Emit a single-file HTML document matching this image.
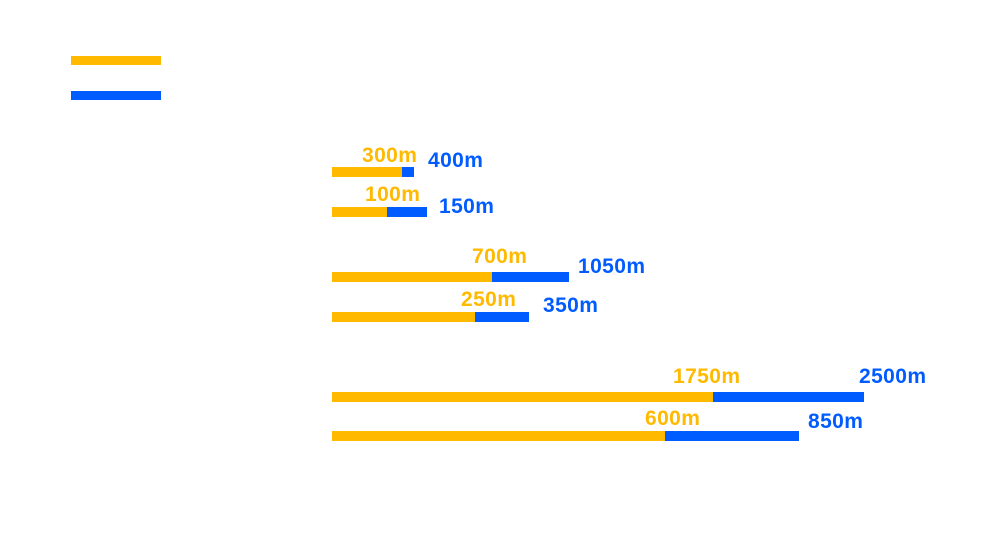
<!DOCTYPE html>
<html><head><style>
body{margin:0;width:1000px;height:534px;background:#fff;position:relative;overflow:hidden;font-family:"Liberation Sans",sans-serif;font-weight:bold}
div{position:absolute}
.y{background:#FFBA00}.b{background:#005CFF}
.t{font-size:21px;line-height:20px;white-space:nowrap;letter-spacing:0.4px}
.ty{color:#FFBA00}.tb{color:#005CFF}
</style></head><body>
<div class="y" style="left:71px;top:56px;width:90px;height:9px"></div>
<div class="b" style="left:71px;top:91px;width:90px;height:9px"></div>

<div class="b" style="left:332px;top:167px;width:82px;height:10px"></div>
<div class="y" style="left:332px;top:167px;width:70px;height:10px"></div>
<div class="b" style="left:332px;top:207px;width:95px;height:10px"></div>
<div class="y" style="left:332px;top:207px;width:55px;height:10px"></div>
<div class="b" style="left:332px;top:272px;width:237px;height:10px"></div>
<div class="y" style="left:332px;top:272px;width:160px;height:10px"></div>
<div class="b" style="left:332px;top:312px;width:197px;height:10px"></div>
<div class="y" style="left:332px;top:312px;width:143px;height:10px"></div>
<div class="b" style="left:332px;top:392px;width:532px;height:10px"></div>
<div class="y" style="left:332px;top:392px;width:381px;height:10px"></div>
<div class="b" style="left:332px;top:431px;width:467px;height:10px"></div>
<div class="y" style="left:332px;top:431px;width:333px;height:10px"></div>

<div class="t ty" style="left:362px;top:146px">300m</div>
<div class="t tb" style="left:428px;top:151px">400m</div>
<div class="t ty" style="left:365px;top:185px">100m</div>
<div class="t tb" style="left:439px;top:197px">150m</div>
<div class="t ty" style="left:472px;top:247px">700m</div>
<div class="t tb" style="left:578px;top:257px">1050m</div>
<div class="t ty" style="left:461px;top:290px">250m</div>
<div class="t tb" style="left:543px;top:296px">350m</div>
<div class="t ty" style="left:673px;top:367px">1750m</div>
<div class="t tb" style="left:859px;top:367px">2500m</div>
<div class="t ty" style="left:645px;top:409px">600m</div>
<div class="t tb" style="left:808px;top:412px">850m</div>
</body></html>
